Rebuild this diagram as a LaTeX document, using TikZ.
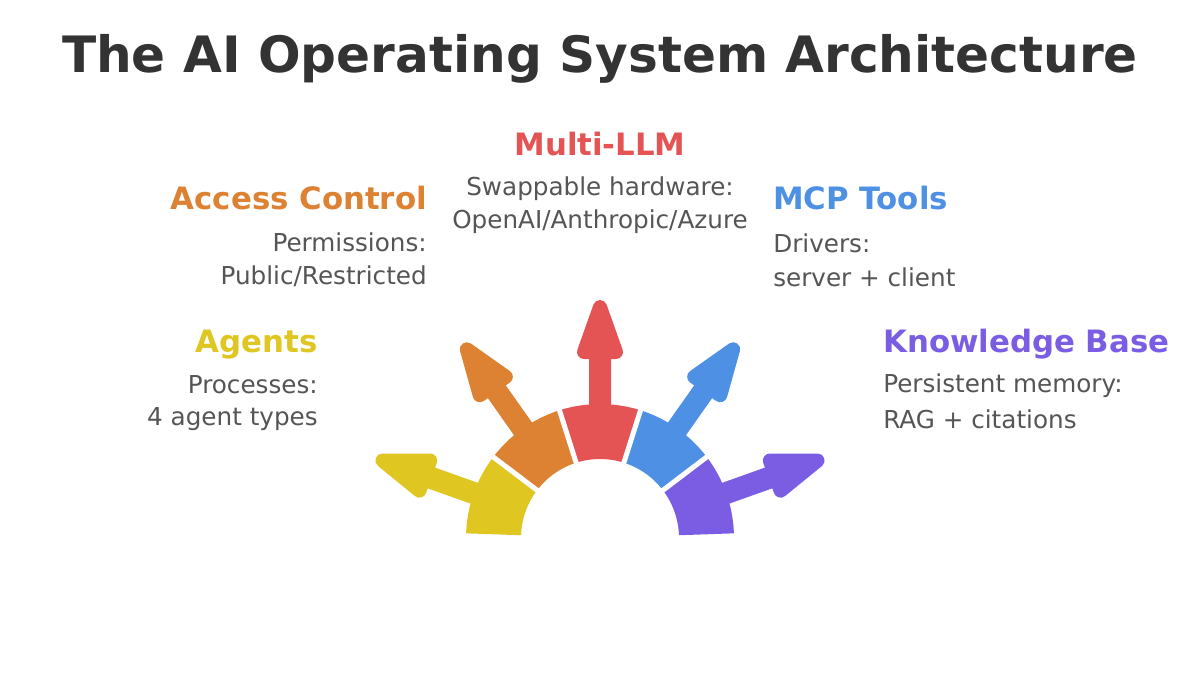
\documentclass[tikz,border=0pt]{standalone}
\usepackage{fontspec}
\setmainfont{DejaVu Sans}
\definecolor{cYel}{HTML}{DFC620}
\definecolor{cOra}{HTML}{DC8232}
\definecolor{cRed}{HTML}{E45454}
\definecolor{cBlu}{HTML}{4E90E4}
\definecolor{cPur}{HTML}{7B5DE4}
\definecolor{cTxt}{HTML}{555555}
\definecolor{cTit}{HTML}{333333}
\begin{document}
\begin{tikzpicture}[x=0.75pt,y=-0.75pt,
  titletext/.style={font=\fontsize{37.6}{45}\selectfont\bfseries, text=cTit, inner sep=0pt},
  headtext/.style={font=\fontsize{23.1}{28}\selectfont\bfseries, inner sep=0pt},
  bodytext/.style={font=\fontsize{18.5}{22}\selectfont, text=cTxt, inner sep=0pt},
  arrowshape/.style={line width=10.5pt, line join=round},
  gapline/.style={white, line width=3.75pt}]
\fill[white] (0,0) rectangle (1200,675);
\useasboundingbox (0,0) rectangle (1200,675);

\node[titletext, anchor=base] (title) at (600,72) {The AI Operating System Architecture};

% Multi-LLM
\node[headtext, text=cRed, anchor=base] (llmH) at (600,155) {Multi-LLM};
\node[bodytext, anchor=base] (llmA) at (600,195) {Swappable hardware:};
\node[bodytext, anchor=base] (llmB) at (600,228) {OpenAI/Anthropic/Azure};

% Access Control
\node[headtext, text=cOra, anchor=base east] (accH) at (427,209) {Access Control};
\node[bodytext, anchor=base east] (accA) at (427,251) {Permissions:};
\node[bodytext, anchor=base east] (accB) at (427,284) {Public/Restricted};

% MCP Tools
\node[headtext, text=cBlu, anchor=base west] (mcpH) at (773,209) {MCP Tools};
\node[bodytext, anchor=base west] (mcpA) at (773,252) {Drivers:};
\node[bodytext, anchor=base west] (mcpB) at (773,286) {server + client};

% Agents
\node[headtext, text=cYel, anchor=base east] (agH) at (318,352) {Agents};
\node[bodytext, anchor=base east] (agA) at (318,393) {Processes:};
\node[bodytext, anchor=base east] (agB) at (318,425) {4 agent types};

% Knowledge Base
\node[headtext, text=cPur, anchor=base west] (kbH) at (883,352) {Knowledge Base};
\node[bodytext, anchor=base west] (kbA) at (883,392) {Persistent memory:};
\node[bodytext, anchor=base west] (kbB) at (883,428) {RAG + citations};

% Fan
\begin{scope}[shift={(600,538)}, yscale=-1]
  \foreach \i/\c in {0/cPur,1/cBlu,2/cRed,3/cOra,4/cYel} {
    \pgfmathsetmacro\aa{2+35.2*\i}
    \pgfmathsetmacro\ab{2+35.2*(\i+1)}
    \pgfmathsetmacro\am{2+35.2*\i+17.6}
    \fill[\c] (\aa:79) -- (\aa:134) arc[start angle=\aa, end angle=\ab, radius=134]
      -- (\ab:79) arc[start angle=\ab, end angle=\aa, radius=79] -- cycle;
    \begin{scope}[rotate=-\am]
      \filldraw[\c, arrowshape] (100,-4) -- (186,-4) -- (186,-16) -- (231,0)
        -- (186,16) -- (186,4) -- (100,4) -- cycle;
    \end{scope}
  }
  \foreach \a in {37.2,72.4,107.6,142.8}
    \draw[gapline] (\a:70) -- (\a:140);
\end{scope}
\end{tikzpicture}
\end{document}
